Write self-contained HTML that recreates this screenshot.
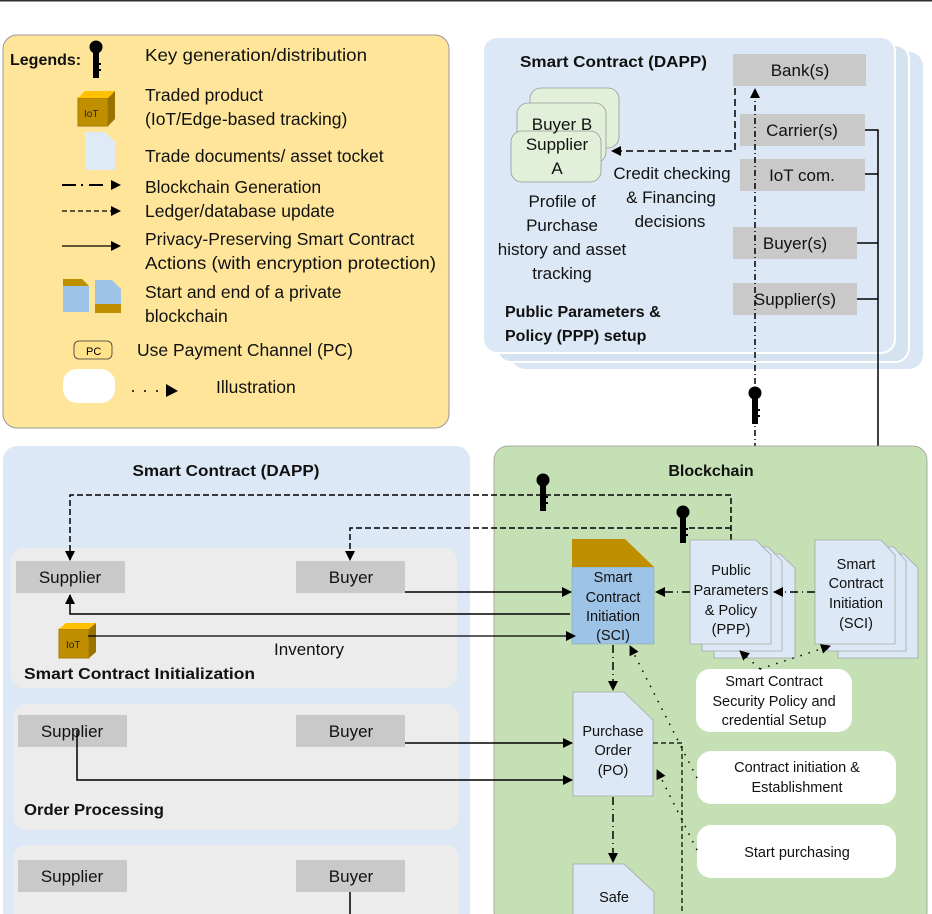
<!DOCTYPE html>
<html><head><meta charset="utf-8"><style>
html,body{margin:0;padding:0;background:#fff;}
svg{display:block;font-family:"Liberation Sans",sans-serif;}
</style></head><body>
<svg width="932" height="914" viewBox="0 0 932 914" xmlns="http://www.w3.org/2000/svg">
<defs>
<marker id="ar" markerWidth="10" markerHeight="10" refX="9" refY="5" orient="auto" markerUnits="userSpaceOnUse"><path d="M0,0 L10,5 L0,10 z" fill="#000"/></marker>
<g id="key"><circle cx="0" cy="0" r="6.5" fill="#000"/><rect x="-3" y="3" width="6" height="28" fill="#000"/><rect x="0" y="16" width="5" height="2" fill="#000"/><rect x="0" y="22" width="5" height="2" fill="#000"/></g>
</defs>
<rect x="0" y="0" width="932" height="1.5" fill="#2b2f33"/>

<!-- Legend -->
<rect x="3" y="35" width="446" height="393" rx="14" fill="#fee599" stroke="#999" stroke-width="1"/>
<g font-size="17.5" fill="#111">
<text x="10" y="65" font-weight="bold" font-size="16">Legends:</text>
<use href="#key" x="96" y="47"/>
<text x="145" y="61" textLength="222" lengthAdjust="spacingAndGlyphs">Key generation/distribution</text>
<text x="145" y="101">Traded product</text>
<text x="145" y="125">(IoT/Edge-based tracking)</text>
<text x="145" y="162">Trade documents/ asset tocket</text>
<text x="145" y="193">Blockchain Generation</text>
<text x="145" y="217">Ledger/database update</text>
<text x="145" y="245">Privacy-Preserving Smart Contract</text>
<text x="145" y="269" textLength="291" lengthAdjust="spacingAndGlyphs">Actions (with encryption protection)</text>
<text x="145" y="298">Start and end of a private</text>
<text x="145" y="322">blockchain</text>
<text x="137" y="356">Use Payment Channel (PC)</text>
<text x="216" y="393">Illustration</text>
</g>
<!-- legend icons -->
<rect x="78" y="98" width="30" height="28" fill="#bf8f00" stroke="#a87c00"/>
<path d="M78,98 L85,91 L115,91 L108,98 z" fill="#ffc000"/>
<path d="M108,98 L115,91 L115,119 L108,126 z" fill="#9a7200"/>
<text x="84" y="117" font-size="10" fill="#222">IoT</text>
<path d="M85,132 L105,132 L115,142 L115,170 L85,170 z" fill="#deebf7"/>
<path d="M62,185 L76,185 M81,185 L83,185 M89,185 L103,185" stroke="#000" stroke-width="2"/>
<line x1="62" y1="211" x2="112" y2="211" stroke="#000" stroke-width="1.2" stroke-dasharray="5,3"/>
<path d="M111,180 L121,185 L111,190 z M111,206 L121,211 L111,216 z M111,241 L121,246 L111,251 z" fill="#000"/>
<line x1="62" y1="246" x2="112" y2="246" stroke="#000" stroke-width="1.2"/>
<path d="M63,279 L82,279 L89,286 L89,312 L63,312 z" fill="#9dc3e6"/><path d="M63,279 L82,279 L89,286 L63,286 z" fill="#bf8f00"/>
<path d="M95,280 L112,280 L121,289 L121,313 L95,313 z" fill="#9dc3e6"/><rect x="95" y="304" width="26" height="9" fill="#bf8f00"/>
<rect x="74" y="341" width="38" height="18" rx="5" fill="#ffe38a" stroke="#333" stroke-width="0.8"/>
<text x="86" y="355" font-size="11">PC</text>
<rect x="63" y="369" width="52" height="34" rx="14" fill="#fff"/>
<g fill="#000"><circle cx="133" cy="391" r="1"/><circle cx="145" cy="391" r="1"/><circle cx="157" cy="391" r="1"/><path d="M166,384 L178,391 L166,397 z"/></g>

<!-- top right DAPP -->
<rect x="511" y="52" width="412" height="317" rx="14" fill="#dae6f3"/>
<rect x="497" y="45" width="412" height="317" rx="14" fill="#d5e2f0" stroke="#fff" stroke-width="2"/>
<rect x="483" y="37" width="412" height="316" rx="14" fill="#dce8f5" stroke="#fff" stroke-width="2"/>
<text x="520" y="67" font-size="16" font-weight="bold" fill="#111" textLength="187" lengthAdjust="spacingAndGlyphs">Smart Contract (DAPP)</text>
<rect x="530" y="88" width="89" height="60" rx="11" fill="#e2efd9" stroke="#999" stroke-width="0.8"/>
<rect x="517" y="103" width="89" height="60" rx="11" fill="#e2efd9" stroke="#999" stroke-width="0.8"/>
<rect x="511" y="131" width="90" height="51" rx="11" fill="#e2efd9" stroke="#999" stroke-width="0.8"/>
<g font-size="17" fill="#111" text-anchor="middle">
<text x="562" y="130">Buyer B</text>
<text x="557" y="150">Supplier</text>
<text x="557" y="174">A</text>
<text x="562" y="207">Profile of</text>
<text x="562" y="231">Purchase</text>
<text x="562" y="255">history and asset</text>
<text x="562" y="279">tracking</text>
<text x="672" y="179">Credit checking</text>
<text x="671" y="203">&amp; Financing</text>
<text x="670" y="227">decisions</text>
</g>
<text x="505" y="317" font-size="16" font-weight="bold" fill="#111">Public Parameters &amp;</text>
<text x="505" y="341" font-size="16" font-weight="bold" fill="#111">Policy (PPP) setup</text>
<g fill="#c9c9c9"><rect x="733" y="54" width="133" height="32"/><rect x="740" y="114" width="125" height="32"/><rect x="740" y="159" width="125" height="32"/><rect x="733" y="227" width="124" height="32"/><rect x="733" y="283" width="124" height="32"/></g>
<g font-size="17" fill="#111" text-anchor="middle">
<text x="800" y="76">Bank(s)</text><text x="802" y="136">Carrier(s)</text><text x="802" y="181">IoT com.</text><text x="795" y="249">Buyer(s)</text><text x="795" y="305">Supplier(s)</text>
</g>
<!-- lines from top right -->
<path d="M735,88 L735,151 L612,151" fill="none" stroke="#000" stroke-width="1.5" stroke-dasharray="7,4" marker-end="url(#ar)"/>
<path d="M755,540 L755,89" fill="none" stroke="#000" stroke-width="1.5" stroke-dasharray="6,3,1,3" marker-end="url(#ar)"/>
<use href="#key" x="755" y="393"/>
<path d="M865,130 L878,130 L878,552" fill="none" stroke="#000" stroke-width="1.5" marker-end="url(#ar)"/>
<path d="M865,174 L878,174 M857,243 L878,243 M857,299 L878,299" stroke="#000" stroke-width="1.5"/>

<!-- bottom left DAPP -->
<rect x="3" y="446" width="467" height="480" rx="14" fill="#dce8f5"/>
<text x="226" y="476" font-size="16" font-weight="bold" fill="#111" text-anchor="middle" textLength="187" lengthAdjust="spacingAndGlyphs">Smart Contract (DAPP)</text>
<rect x="11" y="548" width="446" height="140" rx="13" fill="#ececec"/>
<rect x="13" y="704" width="446" height="126" rx="13" fill="#ececec"/>
<rect x="13" y="845" width="446" height="90" rx="13" fill="#ececec"/>
<g fill="#c9c9c9"><rect x="16" y="561" width="109" height="32"/><rect x="296" y="561" width="109" height="32"/><rect x="18" y="715" width="109" height="32"/><rect x="296" y="715" width="109" height="32"/><rect x="18" y="860" width="109" height="32"/><rect x="296" y="860" width="109" height="32"/></g>
<g font-size="17" fill="#111" text-anchor="middle">
<text x="70" y="583">Supplier</text><text x="351" y="583">Buyer</text>
<text x="72" y="737">Supplier</text><text x="351" y="737">Buyer</text>
<text x="72" y="882">Supplier</text><text x="351" y="882">Buyer</text>
<text x="309" y="655">Inventory</text>
</g>
<text x="24" y="679" font-size="16" font-weight="bold" fill="#111" textLength="231" lengthAdjust="spacingAndGlyphs">Smart Contract Initialization</text>
<text x="24" y="815" font-size="16" font-weight="bold" fill="#111" textLength="140" lengthAdjust="spacingAndGlyphs">Order Processing</text>
<rect x="59" y="629" width="30" height="29" fill="#bf8f00" stroke="#a87c00"/>
<path d="M59,629 L66,623 L96,623 L89,629 z" fill="#ffc000"/>
<path d="M89,629 L96,623 L96,652 L89,658 z" fill="#9a7200"/>
<text x="66" y="648" font-size="10" fill="#222">IoT</text>

<!-- Blockchain -->
<rect x="494" y="446" width="433" height="480" rx="14" fill="#c5e0b4" stroke="#999" stroke-width="0.8"/>
<text x="711" y="476" font-size="16" font-weight="bold" fill="#111" text-anchor="middle">Blockchain</text>

<!-- dashed key lines -->
<path d="M731,540 L731,495 L70,495 L70,560" fill="none" stroke="#000" stroke-width="1.5" stroke-dasharray="6,3" marker-end="url(#ar)"/>
<path d="M731,528 L350,528 L350,560" fill="none" stroke="#000" stroke-width="1.5" stroke-dasharray="6,3" marker-end="url(#ar)"/>
<use href="#key" x="543" y="480"/>
<use href="#key" x="683" y="512"/>

<!-- doc stacks -->
<g stroke="#a6a6a6" stroke-width="0.8" fill="#dce8f5">
<path d="M714,554 L780,554 L795,568 L795,658 L714,658 z"/>
<path d="M702,547 L768,547 L782,561 L782,651 L702,651 z"/>
<path d="M690,540 L756,540 L771,555 L771,644 L690,644 z"/>
<path d="M838,554 L904,554 L918,568 L918,658 L838,658 z"/>
<path d="M828,547 L894,547 L906,561 L906,651 L828,651 z"/>
<path d="M815,540 L881,540 L895,555 L895,644 L815,644 z"/>
<path d="M573,692 L624,692 L653,720 L653,796 L573,796 z"/>
<path d="M573,864 L624,864 L654,892 L654,930 L573,930 z"/>
</g>
<rect x="572" y="567" width="82" height="77" fill="#9dc3e6" stroke="#8aa" stroke-width="0.6"/>
<path d="M572,539 L625,539 L654,567 L572,567 z" fill="#bf8f00"/>
<g font-size="14.5" fill="#111" text-anchor="middle">
<text x="613" y="582">Smart</text><text x="613" y="602">Contract</text><text x="613" y="621">Initiation</text><text x="613" y="640">(SCI)</text>
<text x="731" y="575">Public</text><text x="731" y="595">Parameters</text><text x="731" y="615">&amp; Policy</text><text x="731" y="634">(PPP)</text>
<text x="856" y="569">Smart</text><text x="856" y="588">Contract</text><text x="856" y="608">Initiation</text><text x="856" y="628">(SCI)</text>
<text x="613" y="736">Purchase</text><text x="613" y="755">Order</text><text x="613" y="775">(PO)</text>
<text x="614" y="902">Safe</text>
</g>
<g fill="#fff"><rect x="696" y="669" width="156" height="63" rx="14"/><rect x="697" y="751" width="199" height="53" rx="14"/><rect x="697" y="825" width="199" height="53" rx="14"/></g>
<g font-size="14.5" fill="#111" text-anchor="middle">
<text x="774" y="686">Smart Contract</text><text x="774" y="706">Security Policy and</text><text x="774" y="725">credential Setup</text>
<text x="797" y="772">Contract initiation &amp;</text><text x="797" y="792">Establishment</text>
<text x="797" y="857">Start purchasing</text>
</g>

<!-- solid arrows -->
<g fill="none" stroke="#000" stroke-width="1.5">
<path d="M405,592 L571,592" marker-end="url(#ar)"/>
<path d="M570,614 L70,614 L70,595" marker-end="url(#ar)"/>
<path d="M88,636 L575,636" stroke-width="1.2" marker-end="url(#ar)"/>
<path d="M405,743 L572,743" marker-end="url(#ar)"/>
<path d="M77,730 L77,780 L572,780" marker-end="url(#ar)"/>
<path d="M350,892 L350,914"/>
</g>
<!-- dash-dot -->
<g fill="none" stroke="#000" stroke-width="1.5" stroke-dasharray="8,4,1,4">
<path d="M613,645 L613,690" marker-end="url(#ar)"/>
<path d="M613,797 L613,862" marker-end="url(#ar)"/>
<path d="M690,592 L656,592" marker-end="url(#ar)"/>
<path d="M815,592 L774,592" marker-end="url(#ar)"/>
</g>
<path d="M653,743 L682,743 L682,914" fill="none" stroke="#000" stroke-width="1.2" stroke-dasharray="5,3"/>
<!-- dotted -->
<g fill="none" stroke="#000" stroke-width="1.5" stroke-dasharray="1.5,7">
<path d="M760,669 L740,651" marker-end="url(#ar)"/>
<path d="M760,669 L830,646" marker-end="url(#ar)"/>
<path d="M697,778 L630,646" marker-end="url(#ar)"/>
<path d="M697,850 L657,770" marker-end="url(#ar)"/>
</g>
</svg>
</body></html>
